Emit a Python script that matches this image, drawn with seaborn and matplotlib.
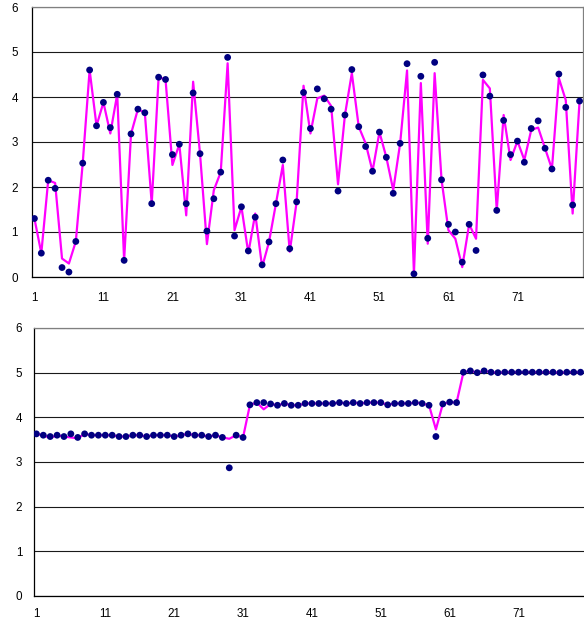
import matplotlib
matplotlib.use("Agg")
import matplotlib.pyplot as plt
import seaborn as sns
import numpy as np
import pandas as pd

# ---- data ----
x_idx = list(range(1, 81))

top_dots = [1.30, 0.53, 2.15, 1.97, 0.21, 0.11, 0.79, 2.53, 4.60, 3.36,
            3.88, 3.32, 4.06, 0.37, 3.18, 3.73, 3.65, 1.63, 4.44, 4.39,
            2.72, 2.95, 1.63, 4.09, 2.74, 1.02, 1.74, 2.33, 4.88, 0.91,
            1.56, 0.58, 1.33, 0.27, 0.78, 1.63, 2.60, 0.63, 1.67, 4.10,
            3.30, 4.18, 3.96, 3.73, 1.91, 3.60, 4.61, 3.34, 2.90, 2.35,
            3.22, 2.66, 1.86, 2.97, 4.74, 0.07, 4.46, 0.86, 4.77, 2.16,
            1.17, 1.00, 0.33, 1.17, 0.59, 4.49, 4.02, 1.48, 3.48, 2.72,
            3.02, 2.55, 3.30, 3.47, 2.86, 2.40, 4.51, 3.77, 1.60, 3.91]

top_line = [1.30, 0.53, 2.15, 2.09, 0.41, 0.30, 0.79, 2.53, 4.60, 3.36,
            3.88, 3.19, 4.06, 0.37, 3.18, 3.73, 3.65, 1.63, 4.44, 4.39,
            2.49, 2.95, 1.37, 4.34, 2.74, 0.73, 1.93, 2.33, 4.75, 1.04,
            1.56, 0.53, 1.41, 0.22, 0.78, 1.63, 2.49, 0.56, 1.67, 4.25,
            3.19, 3.97, 4.03, 3.80, 2.06, 3.60, 4.53, 3.34, 2.97, 2.35,
            3.22, 2.66, 1.93, 2.97, 4.59, 0.07, 4.31, 0.74, 4.53, 2.16,
            1.04, 0.85, 0.22, 1.17, 0.85, 4.38, 4.19, 1.48, 3.60, 2.60,
            3.02, 2.60, 3.27, 3.32, 2.86, 2.40, 4.42, 3.93, 1.41, 3.91]

bot_dots = [3.63, 3.60, 3.57, 3.60, 3.57, 3.63, 3.55, 3.63, 3.60, 3.60,
            3.60, 3.60, 3.57, 3.57, 3.60, 3.60, 3.57, 3.60, 3.60, 3.60,
            3.57, 3.60, 3.63, 3.60, 3.60, 3.57, 3.60, 3.55, 2.87, 3.60,
            3.55, 4.28, 4.33, 4.33, 4.30, 4.27, 4.31, 4.27, 4.27, 4.31,
            4.31, 4.31, 4.31, 4.31, 4.33, 4.31, 4.33, 4.31, 4.33, 4.33,
            4.33, 4.28, 4.31, 4.31, 4.31, 4.33, 4.31, 4.27, 3.57, 4.30,
            4.34, 4.33, 5.01, 5.04, 5.00, 5.04, 5.01, 5.00, 5.01, 5.01,
            5.01, 5.01, 5.01, 5.01, 5.01, 5.01, 5.00, 5.01, 5.01, 5.01]

bot_line = [3.63, 3.60, 3.54, 3.60, 3.57, 3.55, 3.53, 3.63, 3.60, 3.60,
            3.60, 3.60, 3.57, 3.57, 3.60, 3.60, 3.57, 3.60, 3.60, 3.60,
            3.57, 3.60, 3.63, 3.60, 3.60, 3.57, 3.60, 3.55, 3.52, 3.60,
            3.55, 4.28, 4.33, 4.18, 4.30, 4.27, 4.31, 4.27, 4.27, 4.31,
            4.31, 4.31, 4.31, 4.31, 4.33, 4.31, 4.33, 4.31, 4.33, 4.33,
            4.33, 4.28, 4.31, 4.31, 4.31, 4.33, 4.31, 4.27, 3.73, 4.30,
            4.34, 4.33, 5.01, 5.04, 5.00, 5.04, 5.01, 5.00, 5.01, 5.01,
            5.01, 5.01, 5.01, 5.01, 5.01, 5.01, 5.00, 5.01, 5.01, 5.01]

x_tick_vals = [1, 11, 21, 31, 41, 51, 61, 71]
x_tick_labels = ["1", "11", "21", "31", "41", "51", "61", "71"]
y_tick_vals = [0, 1, 2, 3, 4, 5, 6]

# ---- style ----
sns.set_style("white")
plt.rcParams["font.family"] = ["Liberation Sans", "DejaVu Sans"]

fig = plt.figure(figsize=(5.84, 6.23), dpi=100)
ax_top = fig.add_axes([32 / 584, (623 - 277) / 623, (583 - 32) / 584, (277 - 7) / 623])
ax_bot = fig.add_axes([34 / 584, (623 - 596) / 623, (584 - 34) / 584, (596 - 328) / 623])

df_top = pd.DataFrame({"x": x_idx, "dots": top_dots, "line": top_line})
df_bot = pd.DataFrame({"x": x_idx, "dots": bot_dots, "line": bot_line})

for ax, df, right_visible, xpad, ypad in [(ax_top, df_top, True, 7, 6.5),
                                          (ax_bot, df_bot, False, 5.2, 4.8)]:
    sns.lineplot(data=df, x="x", y="line", ax=ax, color="#FF00FF",
                 linewidth=1.6, zorder=2)
    sns.scatterplot(data=df, x="x", y="dots", ax=ax, color="#000080",
                    s=24, edgecolor="none", linewidth=0, zorder=3)
    ax.set_xlim(0.65, 80.5)
    ax.set_ylim(0, 6)
    ax.set_xticks(x_tick_vals)
    ax.set_xticklabels(x_tick_labels)
    ax.set_yticks(y_tick_vals)
    ax.set_xlabel("")
    ax.set_ylabel("")
    ax.yaxis.grid(True, color="#1a1a1a", linewidth=0.8)
    ax.xaxis.grid(False)
    ax.set_axisbelow(True)
    ax.tick_params(axis="both", which="major", direction="out", length=3.6,
                   width=0.8, color="black", labelsize=8.4,
                   labelcolor="black")
    ax.tick_params(axis="x", pad=xpad)
    ax.tick_params(axis="y", pad=ypad)
    for side in ["left", "bottom"]:
        ax.spines[side].set_color("black")
        ax.spines[side].set_linewidth(0.9)
    ax.spines["top"].set_color("#808080")
    ax.spines["top"].set_linewidth(0.9)
    ax.spines["right"].set_color("#808080")
    ax.spines["right"].set_linewidth(0.9)
    ax.spines["right"].set_visible(right_visible)

fig.savefig("out.png", dpi=100)
